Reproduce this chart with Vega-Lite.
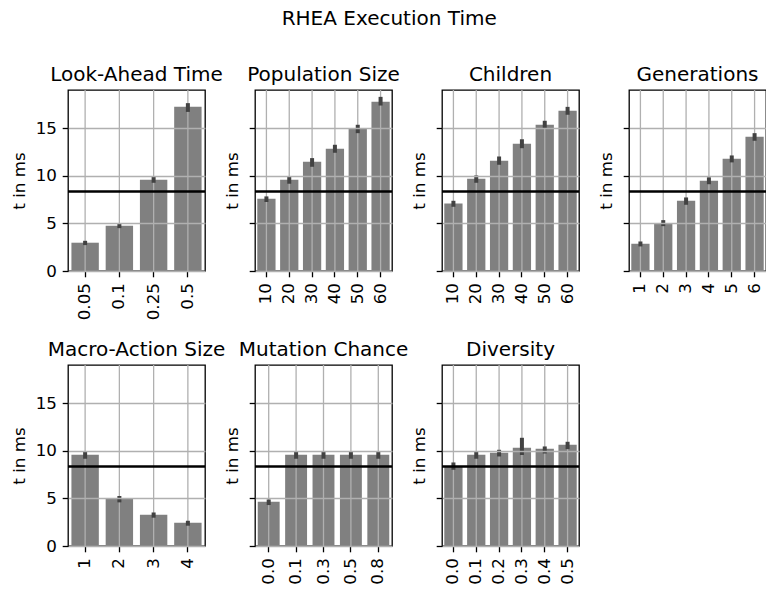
{
  "$schema": "https://vega.github.io/schema/vega-lite/v6.json",
  "padding": {"left": 10, "top": 8, "right": 0, "bottom": 0},
  "background": "white",
  "title": {"text": "RHEA Execution Time", "anchor": "middle", "fontSize": 20, "offset": 36},
  "datasets": {
    "runs": [
      {"p": "Look-Ahead Time", "v": "0.05", "t": 2.97, "lo": 2.72, "hi": 3.17},
      {"p": "Look-Ahead Time", "v": "0.1", "t": 4.75, "lo": 4.5, "hi": 4.98},
      {"p": "Look-Ahead Time", "v": "0.25", "t": 9.58, "lo": 9.26, "hi": 9.92},
      {"p": "Look-Ahead Time", "v": "0.5", "t": 17.23, "lo": 16.7, "hi": 17.62},
      {"p": "Population Size", "v": "10", "t": 7.58, "lo": 7.24, "hi": 7.83},
      {"p": "Population Size", "v": "20", "t": 9.58, "lo": 9.16, "hi": 9.89},
      {"p": "Population Size", "v": "30", "t": 11.47, "lo": 10.94, "hi": 11.85},
      {"p": "Population Size", "v": "40", "t": 12.83, "lo": 12.41, "hi": 13.25},
      {"p": "Population Size", "v": "50", "t": 15.0, "lo": 14.47, "hi": 15.35},
      {"p": "Population Size", "v": "60", "t": 17.76, "lo": 17.37, "hi": 18.28},
      {"p": "Children", "v": "10", "t": 7.09, "lo": 6.74, "hi": 7.37},
      {"p": "Children", "v": "20", "t": 9.68, "lo": 9.26, "hi": 10.03},
      {"p": "Children", "v": "30", "t": 11.57, "lo": 11.15, "hi": 12.02},
      {"p": "Children", "v": "40", "t": 13.35, "lo": 12.89, "hi": 13.83},
      {"p": "Children", "v": "50", "t": 15.35, "lo": 15.0, "hi": 15.77},
      {"p": "Children", "v": "60", "t": 16.82, "lo": 16.4, "hi": 17.23},
      {"p": "Generations", "v": "1", "t": 2.86, "lo": 2.58, "hi": 3.1},
      {"p": "Generations", "v": "2", "t": 5.03, "lo": 4.71, "hi": 5.34},
      {"p": "Generations", "v": "3", "t": 7.37, "lo": 6.95, "hi": 7.72},
      {"p": "Generations", "v": "4", "t": 9.47, "lo": 9.11, "hi": 9.84},
      {"p": "Generations", "v": "5", "t": 11.78, "lo": 11.4, "hi": 12.13},
      {"p": "Generations", "v": "6", "t": 14.09, "lo": 13.67, "hi": 14.47},
      {"p": "Macro-Action Size", "v": "1", "t": 9.58, "lo": 9.16, "hi": 9.92},
      {"p": "Macro-Action Size", "v": "2", "t": 4.93, "lo": 4.58, "hi": 5.25},
      {"p": "Macro-Action Size", "v": "3", "t": 3.28, "lo": 2.97, "hi": 3.52},
      {"p": "Macro-Action Size", "v": "4", "t": 2.44, "lo": 2.13, "hi": 2.65},
      {"p": "Mutation Chance", "v": "0.0", "t": 4.65, "lo": 4.3, "hi": 4.89},
      {"p": "Mutation Chance", "v": "0.1", "t": 9.58, "lo": 9.16, "hi": 9.89},
      {"p": "Mutation Chance", "v": "0.3", "t": 9.58, "lo": 9.16, "hi": 9.89},
      {"p": "Mutation Chance", "v": "0.5", "t": 9.58, "lo": 9.16, "hi": 9.89},
      {"p": "Mutation Chance", "v": "0.8", "t": 9.58, "lo": 9.16, "hi": 9.89},
      {"p": "Diversity", "v": "0.0", "t": 8.3, "lo": 8.0, "hi": 8.77},
      {"p": "Diversity", "v": "0.1", "t": 9.58, "lo": 9.16, "hi": 9.89},
      {"p": "Diversity", "v": "0.2", "t": 9.79, "lo": 9.4, "hi": 10.1},
      {"p": "Diversity", "v": "0.3", "t": 10.31, "lo": 9.55, "hi": 11.36},
      {"p": "Diversity", "v": "0.4", "t": 10.2, "lo": 9.71, "hi": 10.45},
      {"p": "Diversity", "v": "0.5", "t": 10.63, "lo": 10.17, "hi": 10.94}
    ],
    "reference": [{"t": 8.35}]
  },
  "columns": 4,
  "spacing": {"row": 94, "column": 50},
  "bounds": "flush",
  "resolve": {"scale": {"x": "independent", "y": "independent"}},
  "concat": [
    {
      "title": "Look-Ahead Time", "width": 137, "height": 181,
      "layer": [
        {"data": {"name": "runs"}, "transform": [{"filter": "datum.p == 'Look-Ahead Time'"}],
         "mark": {"type": "bar", "color": "#808080"},
         "encoding": {"x": {"field": "v", "type": "nominal", "sort": null, "title": null},
                      "y": {"field": "t", "type": "quantitative", "title": "t in ms", "scale": {"domain": [0, 19.0], "nice": false}, "axis": {"values": [0, 5, 10, 15], "grid": true, "zindex": 1, "labels": true}}}},
        {"data": {"name": "runs"}, "transform": [{"filter": "datum.p == 'Look-Ahead Time'"}],
         "mark": {"type": "rule", "color": "#b0b0b0", "strokeWidth": 1.3},
         "encoding": {"x": {"field": "v", "type": "nominal", "sort": null, "title": null}}},
        {"data": {"name": "runs"}, "transform": [{"filter": "datum.p == 'Look-Ahead Time'"}],
         "mark": {"type": "rule", "color": "#424242", "strokeWidth": 4},
         "encoding": {"x": {"field": "v", "type": "nominal", "sort": null, "title": null},
                      "y": {"field": "lo", "type": "quantitative", "title": "t in ms"}, "y2": {"field": "hi"}}},
        {"data": {"name": "reference"}, "mark": {"type": "rule", "color": "#000", "strokeWidth": 2.5},
         "encoding": {"y": {"field": "t", "type": "quantitative", "title": "t in ms"}}}
      ]
    },
    {
      "title": "Population Size", "width": 137, "height": 181,
      "layer": [
        {"data": {"name": "runs"}, "transform": [{"filter": "datum.p == 'Population Size'"}],
         "mark": {"type": "bar", "color": "#808080"},
         "encoding": {"x": {"field": "v", "type": "nominal", "sort": null, "title": null},
                      "y": {"field": "t", "type": "quantitative", "title": "t in ms", "scale": {"domain": [0, 19.0], "nice": false}, "axis": {"values": [0, 5, 10, 15], "grid": true, "zindex": 1, "labels": false}}}},
        {"data": {"name": "runs"}, "transform": [{"filter": "datum.p == 'Population Size'"}],
         "mark": {"type": "rule", "color": "#b0b0b0", "strokeWidth": 1.3},
         "encoding": {"x": {"field": "v", "type": "nominal", "sort": null, "title": null}}},
        {"data": {"name": "runs"}, "transform": [{"filter": "datum.p == 'Population Size'"}],
         "mark": {"type": "rule", "color": "#424242", "strokeWidth": 4},
         "encoding": {"x": {"field": "v", "type": "nominal", "sort": null, "title": null},
                      "y": {"field": "lo", "type": "quantitative", "title": "t in ms"}, "y2": {"field": "hi"}}},
        {"data": {"name": "reference"}, "mark": {"type": "rule", "color": "#000", "strokeWidth": 2.5},
         "encoding": {"y": {"field": "t", "type": "quantitative", "title": "t in ms"}}}
      ]
    },
    {
      "title": "Children", "width": 137, "height": 181,
      "layer": [
        {"data": {"name": "runs"}, "transform": [{"filter": "datum.p == 'Children'"}],
         "mark": {"type": "bar", "color": "#808080"},
         "encoding": {"x": {"field": "v", "type": "nominal", "sort": null, "title": null},
                      "y": {"field": "t", "type": "quantitative", "title": "t in ms", "scale": {"domain": [0, 19.0], "nice": false}, "axis": {"values": [0, 5, 10, 15], "grid": true, "zindex": 1, "labels": false}}}},
        {"data": {"name": "runs"}, "transform": [{"filter": "datum.p == 'Children'"}],
         "mark": {"type": "rule", "color": "#b0b0b0", "strokeWidth": 1.3},
         "encoding": {"x": {"field": "v", "type": "nominal", "sort": null, "title": null}}},
        {"data": {"name": "runs"}, "transform": [{"filter": "datum.p == 'Children'"}],
         "mark": {"type": "rule", "color": "#424242", "strokeWidth": 4},
         "encoding": {"x": {"field": "v", "type": "nominal", "sort": null, "title": null},
                      "y": {"field": "lo", "type": "quantitative", "title": "t in ms"}, "y2": {"field": "hi"}}},
        {"data": {"name": "reference"}, "mark": {"type": "rule", "color": "#000", "strokeWidth": 2.5},
         "encoding": {"y": {"field": "t", "type": "quantitative", "title": "t in ms"}}}
      ]
    },
    {
      "title": "Generations", "width": 137, "height": 181,
      "layer": [
        {"data": {"name": "runs"}, "transform": [{"filter": "datum.p == 'Generations'"}],
         "mark": {"type": "bar", "color": "#808080"},
         "encoding": {"x": {"field": "v", "type": "nominal", "sort": null, "title": null},
                      "y": {"field": "t", "type": "quantitative", "title": "t in ms", "scale": {"domain": [0, 19.0], "nice": false}, "axis": {"values": [0, 5, 10, 15], "grid": true, "zindex": 1, "labels": false}}}},
        {"data": {"name": "runs"}, "transform": [{"filter": "datum.p == 'Generations'"}],
         "mark": {"type": "rule", "color": "#b0b0b0", "strokeWidth": 1.3},
         "encoding": {"x": {"field": "v", "type": "nominal", "sort": null, "title": null}}},
        {"data": {"name": "runs"}, "transform": [{"filter": "datum.p == 'Generations'"}],
         "mark": {"type": "rule", "color": "#424242", "strokeWidth": 4},
         "encoding": {"x": {"field": "v", "type": "nominal", "sort": null, "title": null},
                      "y": {"field": "lo", "type": "quantitative", "title": "t in ms"}, "y2": {"field": "hi"}}},
        {"data": {"name": "reference"}, "mark": {"type": "rule", "color": "#000", "strokeWidth": 2.5},
         "encoding": {"y": {"field": "t", "type": "quantitative", "title": "t in ms"}}}
      ]
    },
    {
      "title": "Macro-Action Size", "width": 137, "height": 181,
      "layer": [
        {"data": {"name": "runs"}, "transform": [{"filter": "datum.p == 'Macro-Action Size'"}],
         "mark": {"type": "bar", "color": "#808080"},
         "encoding": {"x": {"field": "v", "type": "nominal", "sort": null, "title": null},
                      "y": {"field": "t", "type": "quantitative", "title": "t in ms", "scale": {"domain": [0, 19.0], "nice": false}, "axis": {"values": [0, 5, 10, 15], "grid": true, "zindex": 1, "labels": true}}}},
        {"data": {"name": "runs"}, "transform": [{"filter": "datum.p == 'Macro-Action Size'"}],
         "mark": {"type": "rule", "color": "#b0b0b0", "strokeWidth": 1.3},
         "encoding": {"x": {"field": "v", "type": "nominal", "sort": null, "title": null}}},
        {"data": {"name": "runs"}, "transform": [{"filter": "datum.p == 'Macro-Action Size'"}],
         "mark": {"type": "rule", "color": "#424242", "strokeWidth": 4},
         "encoding": {"x": {"field": "v", "type": "nominal", "sort": null, "title": null},
                      "y": {"field": "lo", "type": "quantitative", "title": "t in ms"}, "y2": {"field": "hi"}}},
        {"data": {"name": "reference"}, "mark": {"type": "rule", "color": "#000", "strokeWidth": 2.5},
         "encoding": {"y": {"field": "t", "type": "quantitative", "title": "t in ms"}}}
      ]
    },
    {
      "title": "Mutation Chance", "width": 137, "height": 181,
      "layer": [
        {"data": {"name": "runs"}, "transform": [{"filter": "datum.p == 'Mutation Chance'"}],
         "mark": {"type": "bar", "color": "#808080"},
         "encoding": {"x": {"field": "v", "type": "nominal", "sort": null, "title": null},
                      "y": {"field": "t", "type": "quantitative", "title": "t in ms", "scale": {"domain": [0, 19.0], "nice": false}, "axis": {"values": [0, 5, 10, 15], "grid": true, "zindex": 1, "labels": false}}}},
        {"data": {"name": "runs"}, "transform": [{"filter": "datum.p == 'Mutation Chance'"}],
         "mark": {"type": "rule", "color": "#b0b0b0", "strokeWidth": 1.3},
         "encoding": {"x": {"field": "v", "type": "nominal", "sort": null, "title": null}}},
        {"data": {"name": "runs"}, "transform": [{"filter": "datum.p == 'Mutation Chance'"}],
         "mark": {"type": "rule", "color": "#424242", "strokeWidth": 4},
         "encoding": {"x": {"field": "v", "type": "nominal", "sort": null, "title": null},
                      "y": {"field": "lo", "type": "quantitative", "title": "t in ms"}, "y2": {"field": "hi"}}},
        {"data": {"name": "reference"}, "mark": {"type": "rule", "color": "#000", "strokeWidth": 2.5},
         "encoding": {"y": {"field": "t", "type": "quantitative", "title": "t in ms"}}}
      ]
    },
    {
      "title": "Diversity", "width": 137, "height": 181,
      "layer": [
        {"data": {"name": "runs"}, "transform": [{"filter": "datum.p == 'Diversity'"}],
         "mark": {"type": "bar", "color": "#808080"},
         "encoding": {"x": {"field": "v", "type": "nominal", "sort": null, "title": null},
                      "y": {"field": "t", "type": "quantitative", "title": "t in ms", "scale": {"domain": [0, 19.0], "nice": false}, "axis": {"values": [0, 5, 10, 15], "grid": true, "zindex": 1, "labels": false}}}},
        {"data": {"name": "runs"}, "transform": [{"filter": "datum.p == 'Diversity'"}],
         "mark": {"type": "rule", "color": "#b0b0b0", "strokeWidth": 1.3},
         "encoding": {"x": {"field": "v", "type": "nominal", "sort": null, "title": null}}},
        {"data": {"name": "runs"}, "transform": [{"filter": "datum.p == 'Diversity'"}],
         "mark": {"type": "rule", "color": "#424242", "strokeWidth": 4},
         "encoding": {"x": {"field": "v", "type": "nominal", "sort": null, "title": null},
                      "y": {"field": "lo", "type": "quantitative", "title": "t in ms"}, "y2": {"field": "hi"}}},
        {"data": {"name": "reference"}, "mark": {"type": "rule", "color": "#000", "strokeWidth": 2.5},
         "encoding": {"y": {"field": "t", "type": "quantitative", "title": "t in ms"}}}
      ]
    }
  ],
  "config": {
    "font": "DejaVu Sans",
    "view": {"stroke": "#000", "strokeWidth": 1.3},
    "scale": {"bandPaddingInner": 0.2, "bandPaddingOuter": 0.1},
    "axis": {
      "domain": false,
      "ticks": true,
      "tickColor": "#000",
      "tickSize": 5.8,
      "tickWidth": 1.3,
      "labelPadding": 5.8,
      "labelFont": "DejaVu Sans",
      "labelFontSize": 16.7,
      "labelColor": "#000",
      "titleFont": "DejaVu Sans",
      "titleFontSize": 16.7,
      "titleFontWeight": "normal",
      "titleColor": "#000",
      "titlePadding": 7,
      "gridColor": "#b0b0b0",
      "gridWidth": 1.3,
      "gridOpacity": 1
    },
    "axisX": {"grid": false, "labelAngle": -90, "bandPosition": 0.5},
    "title": {"font": "DejaVu Sans", "fontSize": 20, "fontWeight": "normal", "color": "#000", "offset": 4, "baseline": "alphabetic"}
  }
}
